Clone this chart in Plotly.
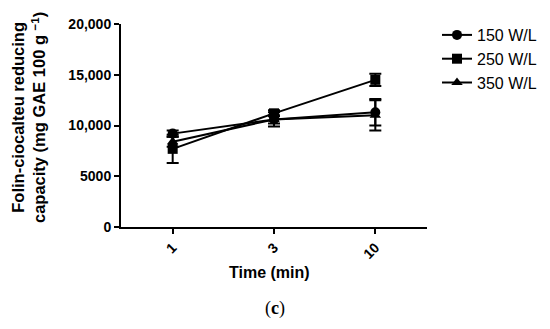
import plotly.graph_objects as go

times = ["1", "3", "10"]
series_names = ["150 W/L", "250 W/L", "350 W/L"]
vals_150 = [9200, 10600, 11300]
err_150 = [300, 400, 1300]
vals_250 = [7700, 11200, 14500]
err_250 = [1400, 300, 600]
vals_350 = [8400, 10600, 11000]
err_350 = [500, 700, 1500]
symbols = ["circle", "square", "triangle-up"]

fig = go.Figure()
for name, v, e, s in zip(series_names, [vals_150, vals_250, vals_350],
                         [err_150, err_250, err_350], symbols):
    fig.add_trace(go.Scatter(
        x=list(range(len(times))), y=v, name=name, mode="lines+markers",
        line=dict(color="black", width=2),
        marker=dict(symbol=s, size=10, color="black"),
        error_y=dict(type="data", array=e, visible=True, color="black",
                     thickness=2, width=6),
    ))

font = "Liberation Sans, Arial, sans-serif"
OFF = 8  # page body margin offset
W, H = 550, 329
# target screen pixel positions of plot area
X0, X1, Y0, Y1 = 121, 427, 24, 227
L = X0 - OFF
R = W - (X1 - OFF)
T = Y0 - OFF
B = H - (Y1 - OFF)
pw = W - L - R
ph = H - T - B

def px_x(p):
    return (p - X0) / pw

def px_y(p):
    return (Y1 - p) / ph

fig.update_layout(
    width=W, height=H,
    margin=dict(l=L, r=R, t=T, b=B, autoexpand=False),
    plot_bgcolor="white", paper_bgcolor="white",
    font=dict(family=font, color="black"),
    showlegend=True,
    legend=dict(x=px_x(437), y=px_y(18), xanchor="left", yanchor="top",
                font=dict(size=16, family=font), itemwidth=30),
    xaxis=dict(
        range=[-0.51, 2.51], tickvals=list(range(len(times))), ticktext=times,
        tickangle=-45, showline=True, linecolor="black", linewidth=2,
        ticks="outside", ticklen=5, tickwidth=2, tickcolor="black",
        showgrid=False, zeroline=False, automargin=False,
        tickfont=dict(size=14, family=font, weight="bold"),
    ),
    yaxis=dict(
        range=[0, 20000], tickvals=[0, 5000, 10000, 15000, 20000],
        ticktext=["0", "5000", "10,000", "15,000", "20,000"],
        showline=True, linecolor="black", linewidth=2,
        ticks="outside", ticklen=5, tickwidth=2, tickcolor="black",
        showgrid=False, zeroline=False, automargin=False,
        tickfont=dict(size=14, family=font, weight="bold"),
    ),
    annotations=[
        dict(text="<b>Folin-ciocalteu reducing<br>capacity (mg GAE 100 g <sup>\u22121</sup>)</b>",
             x=px_x(28), y=px_y(118), xref="paper", yref="paper", textangle=-90,
             xanchor="center", yanchor="middle", showarrow=False,
             font=dict(size=16.5, family=font)),
        dict(text="<b>Time (min)</b>", x=px_x(269), y=px_y(272), xref="paper", yref="paper",
             xanchor="center", yanchor="middle", showarrow=False,
             font=dict(size=16, family=font)),
        dict(text="(<b>c</b>)", x=px_x(275), y=px_y(308), xref="paper", yref="paper",
             xanchor="center", yanchor="middle", showarrow=False,
             font=dict(size=18, family="Liberation Serif, DejaVu Serif, serif")),
    ],
)

fig.write_html("out.html")
